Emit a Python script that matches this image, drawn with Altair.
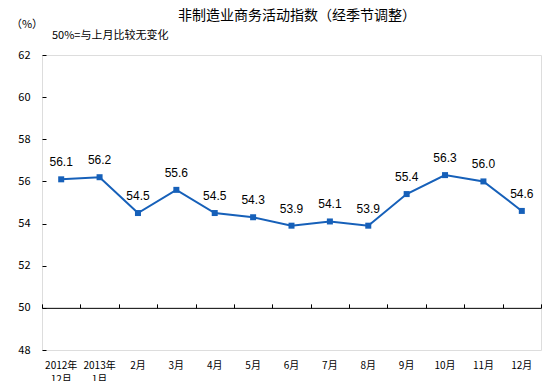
import altair as alt
import pandas as pd

categories = ["2012年 12月", "2013年 1月", "2月", "3月", "4月", "5月", "6月",
              "7月", "8月", "9月", "10月", "11月", "12月"]
values = [56.1, 56.2, 54.5, 55.6, 54.5, 54.3, 53.9, 54.1, 53.9, 55.4, 56.3, 56.0, 54.6]
y_ticks = [48, 50, 52, 54, 56, 58, 60, 62]

title_text = "非制造业商务活动指数（经季节调整）"
unit_text = "（%）"
note_text = "50%=与上月比较无变化"

df = pd.DataFrame({"cat": categories, "val": values,
                   "lab": [f"{v:.1f}" for v in values]})

W, H = 499, 295
COLOR = "#1660B9"
FONT = "Noto Sans CJK SC"
ydom = [48, 62]
y50 = H * (62 - 50) / (62 - 48)

xscale = alt.Scale(type="band", paddingInner=0, paddingOuter=0)
yscale = alt.Scale(domain=ydom, nice=False, zero=False)

line = alt.Chart(df).mark_line(color=COLOR, strokeWidth=2).encode(
    x=alt.X("cat:N", sort=categories, scale=xscale, title=None,
            axis=alt.Axis(orient="bottom", domain=False, ticks=False, labelAngle=0,
                          labelPadding=10, labelFontSize=10, labelFont=FONT,
                          labelColor="#000", labelLineHeight=14,
                          labelExpr="split(datum.label, ' ')")),
    y=alt.Y("val:Q", scale=yscale, title=None,
            axis=alt.Axis(orient="left", values=y_ticks, domain=False, ticks=False,
                          grid=False, labelPadding=12, labelFontSize=11,
                          labelFont=FONT, labelColor="#000")),
)

points = alt.Chart(df).mark_point(shape="square", filled=True, size=36,
                                  color=COLOR, opacity=1).encode(
    x=alt.X("cat:N", sort=categories, scale=xscale, title=None,
            axis=alt.Axis(orient="top", offset=-y50, labels=False, domain=True,
                          domainColor="#000", domainWidth=1, ticks=True, tickSize=4,
                          tickColor="#000", tickBand="extent")),
    y=alt.Y("val:Q", scale=yscale, title=None,
            axis=alt.Axis(orient="right", offset=-W, values=y_ticks, labels=False,
                          domain=False, ticks=True, tickSize=4, tickColor="#000",
                          grid=False)),
)

labels = alt.Chart(df).mark_text(dy=-17, fontSize=12, font="Liberation Sans",
                                 color="#000", baseline="middle").encode(
    x=alt.X("cat:N", sort=categories, scale=xscale, axis=None),
    y=alt.Y("val:Q", scale=yscale, axis=None),
    text="lab:N",
)

def ann(txt, x, y, size, align, weight="normal"):
    return alt.Chart(pd.DataFrame({"t": [txt]})).mark_text(
        fontSize=size, font=FONT, color="#000", align=align, baseline="middle",
        fontWeight=weight
    ).encode(text="t:N", x=alt.value(x), y=alt.value(y))

title = ann(title_text, 255, -39, 14, "center")
unit = ann(unit_text, -15, -30, 11, "center")
note = ann(note_text, 10, -19, 11, "left")

chart = alt.layer(line, points, labels, title, unit, note).resolve_axis(
    x="independent", y="independent"
).properties(
    width=W, height=H, autosize=alt.AutoSizeParams(type="none"),
    padding={"left": 34, "top": 47, "right": 10, "bottom": 31},
).configure_view(stroke="#000", strokeWidth=1).configure(background="white")

chart.save("out.html", embed_options={"renderer": "svg", "actions": False})
